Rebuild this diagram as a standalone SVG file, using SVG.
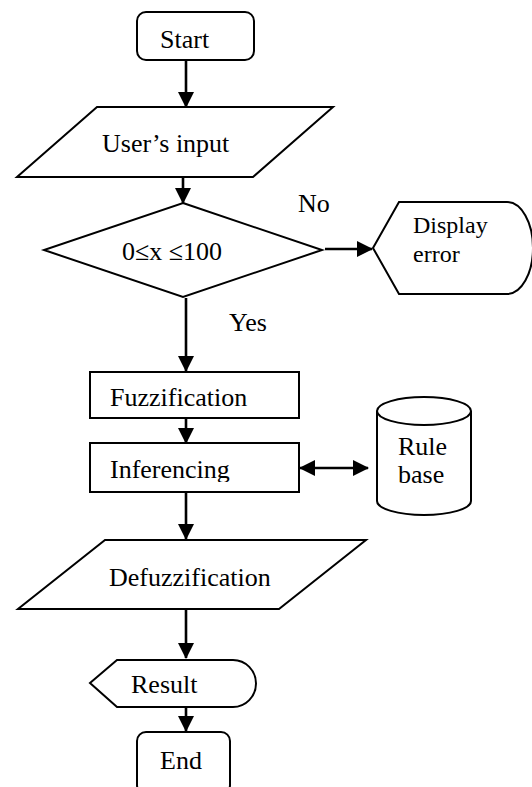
<svg xmlns="http://www.w3.org/2000/svg" width="532" height="787" viewBox="0 0 532 787">
  <style>
    .shape { fill: #ffffff; stroke: #000000; stroke-width: 2; stroke-linejoin: miter; }
    .link { fill: none; stroke: #000000; stroke-width: 2.6; }
    text { font-family: "Liberation Serif", "Times New Roman", serif; font-size: 26px; fill: #000000; }
    .small { font-size: 24px; }
  </style>
  <defs>
    <marker id="arrow" viewBox="0 0 16 16" refX="15" refY="8" markerWidth="16" markerHeight="16" markerUnits="userSpaceOnUse" orient="auto-start-reverse">
      <path d="M0,0 L16,8 L0,16 Z" fill="#000000"/>
    </marker>
    <clipPath id="inferClip">
      <rect x="90" y="443" width="209" height="39"/>
    </clipPath>
  </defs>

  <rect width="532" height="787" fill="#ffffff"/>

  <!-- connectors -->
  <g id="connectors">
    <line class="link" x1="186" y1="60" x2="186" y2="107" marker-end="url(#arrow)"/>
    <line class="link" x1="183" y1="177" x2="183" y2="203" marker-end="url(#arrow)"/>
    <line class="link" x1="325" y1="249" x2="372" y2="249" marker-end="url(#arrow)"/>
    <line class="link" x1="186" y1="298" x2="186" y2="371" marker-end="url(#arrow)"/>
    <line class="link" x1="186" y1="418" x2="186" y2="443" marker-end="url(#arrow)"/>
    <line class="link" x1="300" y1="468" x2="368" y2="468" marker-start="url(#arrow)" marker-end="url(#arrow)"/>
    <line class="link" x1="186" y1="492" x2="186" y2="539" marker-end="url(#arrow)"/>
    <line class="link" x1="186" y1="609" x2="186" y2="658" marker-end="url(#arrow)"/>
    <line class="link" x1="186" y1="707" x2="186" y2="731" marker-end="url(#arrow)"/>
  </g>

  <!-- edge labels -->
  <text x="298" y="212">No</text>
  <text x="229" y="331">Yes</text>

  <g id="start">
    <rect class="shape" x="137" y="12" width="117" height="48" rx="9"/>
    <text x="160" y="48">Start</text>
  </g>

  <g id="user-input">
    <polygon class="shape" points="97,107 333,107 253,177 17,177"/>
    <text x="102" y="152">User’s input</text>
  </g>

  <g id="range-check">
    <polygon class="shape" points="183,203 322,250 183,297 44,250"/>
    <text x="122" y="260">0≤x ≤100</text>
  </g>

  <g id="display-error">
    <path class="shape" d="M373,248 L399,202 L507,202 A26,46 0 0 1 507,294 L399,294 Z"/>
    <text class="small" x="413" y="233">Display</text>
    <text class="small" x="413" y="262">error</text>
  </g>

  <g id="fuzzification">
    <rect class="shape" x="90" y="372" width="209" height="46"/>
    <text x="110" y="406">Fuzzification</text>
  </g>

  <g id="inferencing">
    <rect class="shape" x="90" y="443" width="209" height="49"/>
    <text x="110" y="478" clip-path="url(#inferClip)">Inferencing</text>
  </g>

  <g id="rule-base">
    <path class="shape" d="M377,411 A47,14 0 0 1 471,411 L471,501 A47,14 0 0 1 377,501 Z"/>
    <path class="shape" fill="none" d="M377,411 A47,14 0 0 0 471,411"/>
    <text x="398" y="455">Rule</text>
    <text x="398" y="483">base</text>
  </g>

  <g id="defuzzification">
    <polygon class="shape" points="105,540 366,540 279,609 18,609"/>
    <text x="109" y="586">Defuzzification</text>
  </g>

  <g id="result">
    <path class="shape" d="M90,683 L117,660 L233,660 A23,23.5 0 0 1 233,707 L117,707 Z"/>
    <text x="131" y="693">Result</text>
  </g>

  <g id="end">
    <rect class="shape" x="137" y="732" width="93" height="62" rx="9"/>
    <text x="160" y="769">End</text>
  </g>
</svg>
